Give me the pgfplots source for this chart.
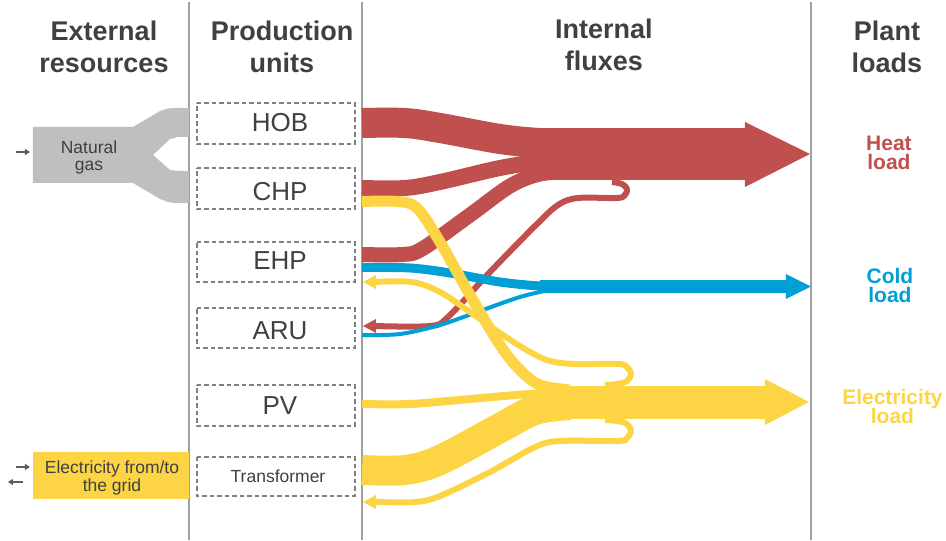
\documentclass[border=0pt]{standalone}
\usepackage{pgfplots}
\pgfplotsset{compat=1.18}
\usepackage{fontspec}
\setmainfont{Liberation Sans}
\usetikzlibrary{arrows.meta}

\definecolor{heat}{RGB}{192,80,77}
\definecolor{cold}{RGB}{0,160,214}
\definecolor{elec}{RGB}{253,213,68}
\definecolor{gasgray}{RGB}{191,191,191}
\definecolor{txt}{RGB}{64,64,64}
\definecolor{sepgray}{RGB}{160,160,160}
\definecolor{dashgray}{RGB}{128,128,128}

\tikzset{
    flow/.style={smooth, tension=0.55, line join=round},
    box/.style={draw=dashgray, line width=1.4pt, dash pattern=on 4.5pt off 3pt},
    head/.style={font=\fontsize{27}{30}\selectfont\bfseries, text=txt, anchor=base},
    unit/.style={font=\fontsize{26}{30}\selectfont, text=txt, anchor=base},
    small/.style={font=\fontsize{17.5}{20}\selectfont, text=txt, anchor=base},
    load/.style={font=\fontsize{21}{24}\selectfont\bfseries, anchor=base},
    io/.style={draw=txt!85, line width=1.2pt, -{Triangle[length=5pt,width=6pt]}},
}

\begin{document}
\begin{tikzpicture}
\begin{axis}[
    scale only axis,
    width=946pt, height=540pt,
    xmin=0, xmax=946, ymin=0, ymax=540,
    y dir=reverse,
    hide axis,
    clip=false,
]
% frame for the bounding box
\addplot[draw=none] coordinates {(0,0) (946,540)};

% column separators
\addplot[draw=sepgray, line width=1.5pt] coordinates {(189,2) (189,540)};
\addplot[draw=sepgray, line width=1.5pt] coordinates {(362,2) (362,540)};
\addplot[draw=sepgray, line width=1.5pt] coordinates {(811,2) (811,540)};

% headers
\node[head] at (axis cs:104,41) {External};
\node[head] at (axis cs:104,73) {resources};
\node[head] at (axis cs:282,41) {Production};
\node[head] at (axis cs:282,73) {units};
\node[head] at (axis cs:604,39) {Internal};
\node[head] at (axis cs:604,71) {fluxes};
\node[head] at (axis cs:887,41) {Plant};
\node[head] at (axis cs:887,73) {loads};

% natural gas
\addplot[fill=gasgray, draw=none] coordinates {
    (33,127) (133,127) (150,117) (160,111) (168,108.5) (175,108) (189,108)
    (189,137) (178,137) (170,139) (153,155) (170,170) (178,171) (189,171)
    (189,203) (175,203) (168,202) (160,199) (150,193) (133,183) (33,183)
} -- cycle;
\node[small] at (axis cs:89,154) {Natural};
\node[small] at (axis cs:89,171) {gas};
\addplot[io] coordinates {(16,152) (30,152)};

% grid
\addplot[fill=elec, draw=none] coordinates {(33,452) (189,452) (189,499) (33,499)} -- cycle;
\node[small] at (axis cs:112,474) {Electricity from/to};
\node[small] at (axis cs:112,492) {the grid};
\addplot[io] coordinates {(16,467) (30,467)};
\addplot[io] coordinates {(23,482) (8,482)};

% production units
\addplot[box] coordinates {(197,103) (355,103) (355,144) (197,144)} -- cycle;
\addplot[box] coordinates {(197,168) (355,168) (355,209) (197,209)} -- cycle;
\addplot[box] coordinates {(197,242) (355,242) (355,282) (197,282)} -- cycle;
\addplot[box] coordinates {(197,308) (355,308) (355,348) (197,348)} -- cycle;
\addplot[box] coordinates {(197,385) (355,385) (355,426) (197,426)} -- cycle;
\addplot[box] coordinates {(197,457) (355,457) (355,496) (197,496)} -- cycle;
\node[unit] at (axis cs:280,131.5) {HOB};
\node[unit] at (axis cs:280,201) {CHP};
\node[unit] at (axis cs:280,270) {EHP};
\node[unit] at (axis cs:280,340) {ARU};
\node[unit] at (axis cs:280,415) {PV};
\node[small] at (axis cs:278,483) {Transformer};

% heat fluxes
\addplot[flow, draw=heat, line width=30pt] coordinates {
    (362,123) (405,123) (440,128) (500,139) (540,143) (570,143)};
\addplot[flow, draw=heat, line width=16pt] coordinates {
    (362,188) (405,188) (440,182) (500,168) (540,162) (570,162)};
\addplot[flow, draw=heat, line width=15pt] coordinates {
    (362,254.5) (402,254.5) (422,249) (470,215) (510,186) (540,174) (570,172)};
\addplot[flow, draw=heat, line width=6pt] coordinates {
    (374,326) (430,326) (448,317) (490,272) (535,226) (558,205) (578,198)
    (617,198) (625,195) (627,189) (622,184) (612,182)};
\addplot[fill=heat, draw=none] coordinates {(363,326) (376,319) (376,333)} -- cycle;
\addplot[fill=heat, draw=none] coordinates {(540,128) (746,128) (746,180) (540,180)} -- cycle;
\addplot[fill=heat, draw=none] coordinates {(745,122) (810,154) (745,187)} -- cycle;

% cold fluxes
\addplot[flow, draw=cold, line width=9pt] coordinates {
    (362,267.5) (410,268) (450,273) (500,282) (540,286) (570,286.5)};
\addplot[flow, draw=cold, line width=4pt] coordinates {
    (362,335) (400,334) (440,325) (480,311) (520,297) (550,290) (570,288)};
\addplot[fill=cold, draw=none] coordinates {(540,280) (787,280) (787,293) (540,293)} -- cycle;
\addplot[fill=cold, draw=none] coordinates {(786,274) (811,286.5) (786,299)} -- cycle;

% electricity fluxes
\addplot[flow, draw=elec, line width=8pt] coordinates {
    (362,404) (410,404) (470,399) (530,394) (570,393)};
\addplot[flow, draw=elec, line width=30pt] coordinates {
    (362,470) (405,470) (440,460) (500,428) (535,410) (570,405)};
\addplot[flow, draw=elec, line width=6pt] coordinates {
    (374,282) (412,282) (440,292) (470,312) (500,333) (530,352) (550,361) (575,364)
    (618,364) (627,367) (631,374) (627,381) (617,384) (605,385)};
\addplot[fill=elec, draw=none] coordinates {(363,282) (376,275) (376,289)} -- cycle;
\addplot[flow, draw=elec, line width=6pt] coordinates {
    (374,502) (415,502) (440,496) (490,472) (535,447) (560,441) (618,441)
    (627,438) (631,431) (627,424) (617,421) (605,420)};
\addplot[fill=elec, draw=none] coordinates {(363,502) (376,495) (376,509)} -- cycle;
\addplot[flow, draw=elec, line width=11pt] coordinates {
    (362,201.5) (397,201.5) (417,208) (440,242) (470,295) (500,345) (520,370) (540,385) (570,390)};
\addplot[fill=elec, draw=none] coordinates {(540,386) (766,386) (766,419) (540,419)} -- cycle;
\addplot[fill=elec, draw=none] coordinates {(765,379) (809,402) (765,425)} -- cycle;

% plant loads
\node[load, text=heat] at (axis cs:889,150.5) {Heat};
\node[load, text=heat] at (axis cs:889,170) {load};
\node[load, text=cold] at (axis cs:890,283.5) {Cold};
\node[load, text=cold] at (axis cs:890,303) {load};
\node[load, text=elec] at (axis cs:892.5,405) {Electricity};
\node[load, text=elec] at (axis cs:892.5,424) {load};
\end{axis}
\end{tikzpicture}
\end{document}
